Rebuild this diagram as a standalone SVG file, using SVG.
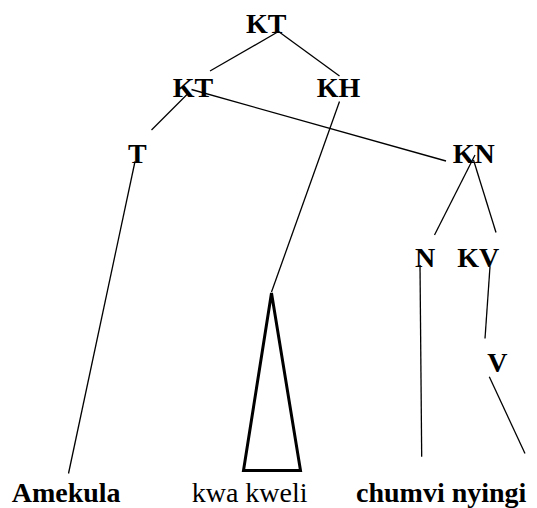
<svg xmlns="http://www.w3.org/2000/svg" width="537" height="508" viewBox="0 0 537 508">
<style>
.l{stroke:#000;stroke-width:1.3;fill:none}
.t{stroke:#000;stroke-width:3;fill:none;stroke-linejoin:miter}
.tx{font-family:'Liberation Serif','Times New Roman',Times,serif;font-size:28px;fill:#000}
.b{font-weight:bold}
</style>
<rect width="537" height="508" fill="#fff"/>
<g id="connectors">
<line class="l" x1="278.5" y1="31.5" x2="210" y2="71"/>
<line class="l" x1="278.5" y1="31.5" x2="339.5" y2="76"/>
<line class="l" x1="187" y1="94.5" x2="151.5" y2="130"/>
<line class="l" x1="191.5" y1="89.5" x2="446" y2="161"/>
<line class="l" x1="339.5" y1="101.5" x2="271.5" y2="292"/>
<line class="l" x1="135" y1="161.5" x2="68.5" y2="473.5"/>
<line class="l" x1="475" y1="155" x2="434.5" y2="235"/>
<line class="l" x1="473.5" y1="160" x2="496" y2="232.5"/>
<line class="l" x1="420" y1="265" x2="421.7" y2="456.7"/>
<line class="l" x1="490" y1="266.5" x2="485" y2="338.5"/>
<line class="l" x1="489.3" y1="376.7" x2="525" y2="453.5"/>
</g>
<g id="n-kt-top"><text class="tx b" x="246" y="33">KT</text></g>
<g id="n-kt"><text class="tx b" x="172.7" y="97">KT</text></g>
<g id="n-kh"><text class="tx b" x="316.7" y="97">KH</text></g>
<g id="n-t"><text class="tx b" x="128" y="163">T</text></g>
<g id="n-kn"><text class="tx b" x="452.7" y="163">KN</text></g>
<g id="n-n"><text class="tx b" x="415" y="267">N</text></g>
<g id="n-kv"><text class="tx b" x="457.3" y="267">KV</text></g>
<g id="n-v"><text class="tx b" x="487.3" y="371.5">V</text></g>
<g id="n-triangle"><polygon class="t" points="271.5,293 243.5,470.5 300.5,470.5"/></g>
<g id="n-amekula"><text class="tx b" x="11.7" y="501.5">Amekula</text></g>
<g id="n-kwakweli"><text class="tx" x="191.7" y="501.5">kwa kweli</text></g>
<g id="n-chumvi"><text class="tx b" x="356" y="501.5">chumvi nyingi</text></g>
</svg>
